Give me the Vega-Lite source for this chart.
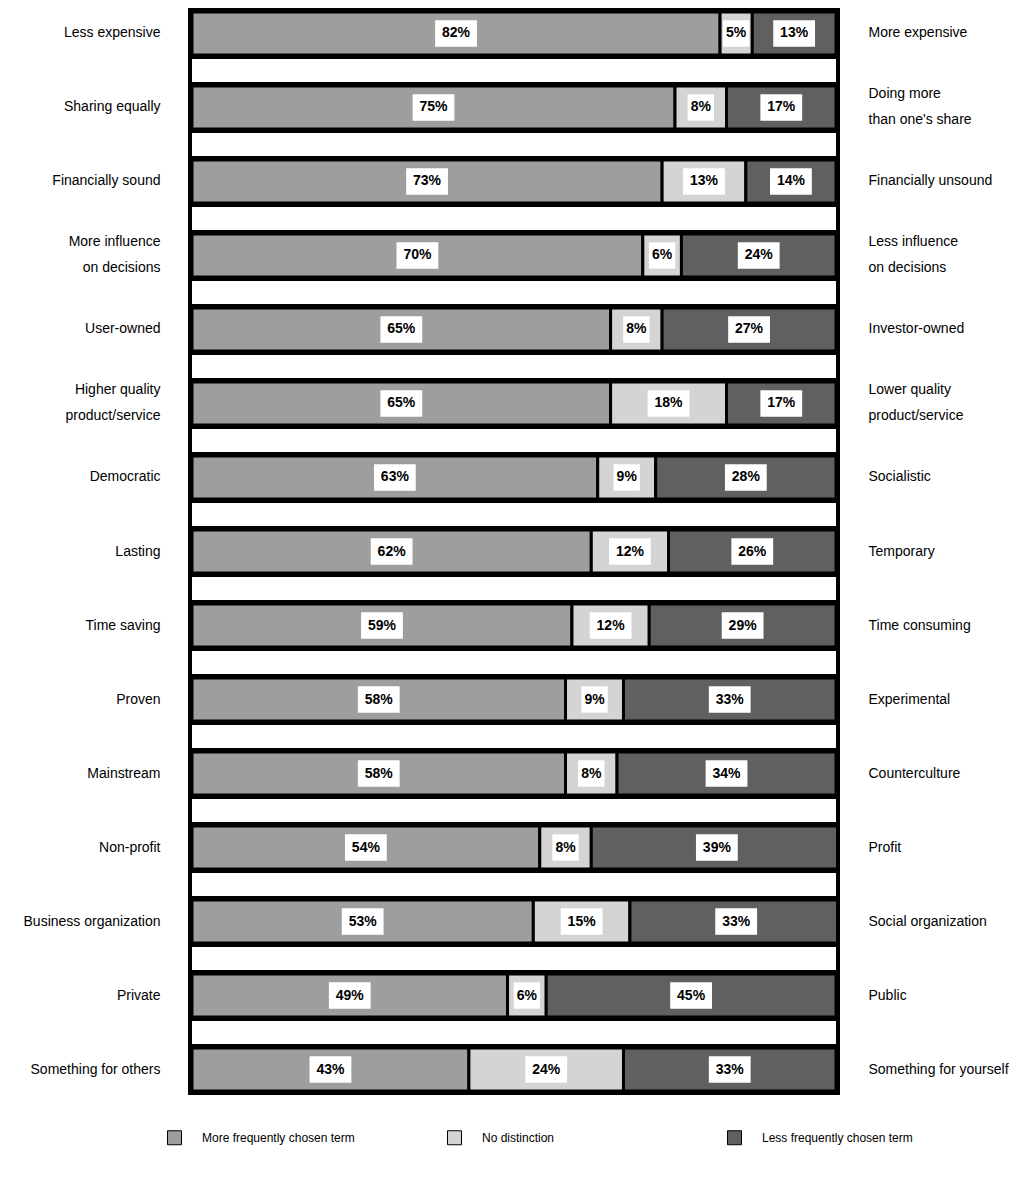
{
  "$schema": "https://vega.github.io/schema/vega-lite/v6.json",
  "width": 644,
  "height": 1079,
  "autosize": {"type": "none"},
  "padding": {"left": 192, "top": 12, "right": 189, "bottom": 88},
  "background": "white",
  "config": {
    "view": {"fill": "black", "stroke": "black", "strokeWidth": 8},
    "font": "Liberation Sans"
  },
  "data": {
    "values": [
      {"order": 1, "left": "Less expensive", "right": "More expensive", "seg": 0, "cat": "More frequently chosen term", "pct": 82},
      {"order": 1, "left": "Less expensive", "right": "More expensive", "seg": 1, "cat": "No distinction", "pct": 5},
      {"order": 1, "left": "Less expensive", "right": "More expensive", "seg": 2, "cat": "Less frequently chosen term", "pct": 13},
      {"order": 2, "left": "Sharing equally", "right": "Doing more|than one's share", "seg": 0, "cat": "More frequently chosen term", "pct": 75},
      {"order": 2, "left": "Sharing equally", "right": "Doing more|than one's share", "seg": 1, "cat": "No distinction", "pct": 8},
      {"order": 2, "left": "Sharing equally", "right": "Doing more|than one's share", "seg": 2, "cat": "Less frequently chosen term", "pct": 17},
      {"order": 3, "left": "Financially sound", "right": "Financially unsound", "seg": 0, "cat": "More frequently chosen term", "pct": 73},
      {"order": 3, "left": "Financially sound", "right": "Financially unsound", "seg": 1, "cat": "No distinction", "pct": 13},
      {"order": 3, "left": "Financially sound", "right": "Financially unsound", "seg": 2, "cat": "Less frequently chosen term", "pct": 14},
      {"order": 4, "left": "More influence|on decisions", "right": "Less influence|on decisions", "seg": 0, "cat": "More frequently chosen term", "pct": 70},
      {"order": 4, "left": "More influence|on decisions", "right": "Less influence|on decisions", "seg": 1, "cat": "No distinction", "pct": 6},
      {"order": 4, "left": "More influence|on decisions", "right": "Less influence|on decisions", "seg": 2, "cat": "Less frequently chosen term", "pct": 24},
      {"order": 5, "left": "User-owned", "right": "Investor-owned", "seg": 0, "cat": "More frequently chosen term", "pct": 65},
      {"order": 5, "left": "User-owned", "right": "Investor-owned", "seg": 1, "cat": "No distinction", "pct": 8},
      {"order": 5, "left": "User-owned", "right": "Investor-owned", "seg": 2, "cat": "Less frequently chosen term", "pct": 27},
      {"order": 6, "left": "Higher quality|product/service", "right": "Lower quality|product/service", "seg": 0, "cat": "More frequently chosen term", "pct": 65},
      {"order": 6, "left": "Higher quality|product/service", "right": "Lower quality|product/service", "seg": 1, "cat": "No distinction", "pct": 18},
      {"order": 6, "left": "Higher quality|product/service", "right": "Lower quality|product/service", "seg": 2, "cat": "Less frequently chosen term", "pct": 17},
      {"order": 7, "left": "Democratic", "right": "Socialistic", "seg": 0, "cat": "More frequently chosen term", "pct": 63},
      {"order": 7, "left": "Democratic", "right": "Socialistic", "seg": 1, "cat": "No distinction", "pct": 9},
      {"order": 7, "left": "Democratic", "right": "Socialistic", "seg": 2, "cat": "Less frequently chosen term", "pct": 28},
      {"order": 8, "left": "Lasting", "right": "Temporary", "seg": 0, "cat": "More frequently chosen term", "pct": 62},
      {"order": 8, "left": "Lasting", "right": "Temporary", "seg": 1, "cat": "No distinction", "pct": 12},
      {"order": 8, "left": "Lasting", "right": "Temporary", "seg": 2, "cat": "Less frequently chosen term", "pct": 26},
      {"order": 9, "left": "Time saving", "right": "Time consuming", "seg": 0, "cat": "More frequently chosen term", "pct": 59},
      {"order": 9, "left": "Time saving", "right": "Time consuming", "seg": 1, "cat": "No distinction", "pct": 12},
      {"order": 9, "left": "Time saving", "right": "Time consuming", "seg": 2, "cat": "Less frequently chosen term", "pct": 29},
      {"order": 10, "left": "Proven", "right": "Experimental", "seg": 0, "cat": "More frequently chosen term", "pct": 58},
      {"order": 10, "left": "Proven", "right": "Experimental", "seg": 1, "cat": "No distinction", "pct": 9},
      {"order": 10, "left": "Proven", "right": "Experimental", "seg": 2, "cat": "Less frequently chosen term", "pct": 33},
      {"order": 11, "left": "Mainstream", "right": "Counterculture", "seg": 0, "cat": "More frequently chosen term", "pct": 58},
      {"order": 11, "left": "Mainstream", "right": "Counterculture", "seg": 1, "cat": "No distinction", "pct": 8},
      {"order": 11, "left": "Mainstream", "right": "Counterculture", "seg": 2, "cat": "Less frequently chosen term", "pct": 34},
      {"order": 12, "left": "Non-profit", "right": "Profit", "seg": 0, "cat": "More frequently chosen term", "pct": 54},
      {"order": 12, "left": "Non-profit", "right": "Profit", "seg": 1, "cat": "No distinction", "pct": 8},
      {"order": 12, "left": "Non-profit", "right": "Profit", "seg": 2, "cat": "Less frequently chosen term", "pct": 39},
      {"order": 13, "left": "Business organization", "right": "Social organization", "seg": 0, "cat": "More frequently chosen term", "pct": 53},
      {"order": 13, "left": "Business organization", "right": "Social organization", "seg": 1, "cat": "No distinction", "pct": 15},
      {"order": 13, "left": "Business organization", "right": "Social organization", "seg": 2, "cat": "Less frequently chosen term", "pct": 33},
      {"order": 14, "left": "Private", "right": "Public", "seg": 0, "cat": "More frequently chosen term", "pct": 49},
      {"order": 14, "left": "Private", "right": "Public", "seg": 1, "cat": "No distinction", "pct": 6},
      {"order": 14, "left": "Private", "right": "Public", "seg": 2, "cat": "Less frequently chosen term", "pct": 45},
      {"order": 15, "left": "Something for others", "right": "Something for yourself", "seg": 0, "cat": "More frequently chosen term", "pct": 43},
      {"order": 15, "left": "Something for others", "right": "Something for yourself", "seg": 1, "cat": "No distinction", "pct": 24},
      {"order": 15, "left": "Something for others", "right": "Something for yourself", "seg": 2, "cat": "Less frequently chosen term", "pct": 33}
    ]
  },
  "transform": [
    {"stack": "pct", "groupby": ["left"], "sort": [{"field": "seg", "order": "ascending"}], "as": ["x0", "x1"]},
    {"calculate": "(datum.x0 + datum.x1) / 2", "as": "mid"},
    {"calculate": "datum.pct + '%'", "as": "lbl"}
  ],
  "resolve": {"scale": {"y": "independent"}, "axis": {"y": "independent"}},
  "layer": [
    {
      "encoding": {
        "y": {
          "field": "left", "type": "nominal",
          "sort": {"field": "order", "op": "min"},
          "scale": {"type": "band", "paddingInner": 0.419, "paddingOuter": 0},
          "axis": {
            "orient": "left", "title": null, "domain": false, "ticks": false,
            "labelPadding": 32, "labelFontSize": 14, "labelColor": "black",
            "labelFont": "Liberation Sans", "labelLineHeight": 26, "labelLimit": 300,
            "labelOffset": {"condition": {"test": "indexof(datum.value, '|') >= 0", "value": -13}, "value": 0},
            "labelExpr": "split(datum.value, '|')"
          }
        }
      },
      "layer": [
        {
          "mark": {"type": "bar", "stroke": "black", "strokeWidth": 3, "clip": true},
          "encoding": {
            "x": {"field": "x0", "type": "quantitative", "scale": {"domain": [0, 100], "nice": false, "zero": true}, "axis": null},
            "x2": {"field": "x1"},
            "fill": {
              "field": "cat", "type": "nominal",
              "scale": {
                "domain": ["More frequently chosen term", "No distinction", "Less frequently chosen term"],
                "range": ["#9e9e9e", "#d4d4d4", "#606060"]
              },
              "legend": {
                "orient": "none", "legendX": -25, "legendY": 1118,
                "direction": "horizontal", "columns": 3, "title": null,
                "symbolType": "square", "symbolSize": 196, "symbolStrokeColor": "black",
                "symbolStrokeWidth": 1, "symbolOpacity": 1,
                "labelFontSize": 12, "labelFont": "Liberation Sans", "labelColor": "black",
                "labelOffset": 20, "columnPadding": 90, "gridAlign": "all", "labelLimit": 300
              }
            }
          }
        },
        {
          "transform": [{"filter": "datum.seg == 0"}],
          "mark": {"type": "bar", "color": "white", "size": 23, "yOffset": 37, "clip": true},
          "encoding": {
            "x": {"datum": 0, "type": "quantitative"},
            "x2": {"datum": 100}
          }
        },
        {
          "mark": {"type": "point", "filled": true, "fill": "white", "opacity": 1, "size": 1936, "strokeWidth": 0},
          "encoding": {
            "x": {"field": "mid", "type": "quantitative"},
            "shape": {
              "condition": {"test": "datum.pct < 10", "value": "M-0.6,-0.6H0.6V0.6H-0.6Z"},
              "value": "M-0.95,-0.6H0.95V0.6H-0.95Z"
            }
          }
        }
      ]
    },
    {
      "mark": {"type": "text", "fontWeight": "bold", "fontSize": 14, "font": "Liberation Sans", "color": "black"},
      "encoding": {
        "y": {
          "field": "right", "type": "nominal",
          "sort": {"field": "order", "op": "min"},
          "scale": {"type": "band", "paddingInner": 0.419, "paddingOuter": 0},
          "axis": {
            "orient": "right", "title": null, "domain": false, "ticks": false,
            "labelPadding": 32, "labelFontSize": 14, "labelColor": "black",
            "labelFont": "Liberation Sans", "labelLineHeight": 26, "labelLimit": 300,
            "labelOffset": {"condition": {"test": "indexof(datum.value, '|') >= 0", "value": -13}, "value": 0},
            "labelExpr": "split(datum.value, '|')"
          }
        },
        "x": {"field": "mid", "type": "quantitative"},
        "text": {"field": "lbl"}
      }
    }
  ]
}
